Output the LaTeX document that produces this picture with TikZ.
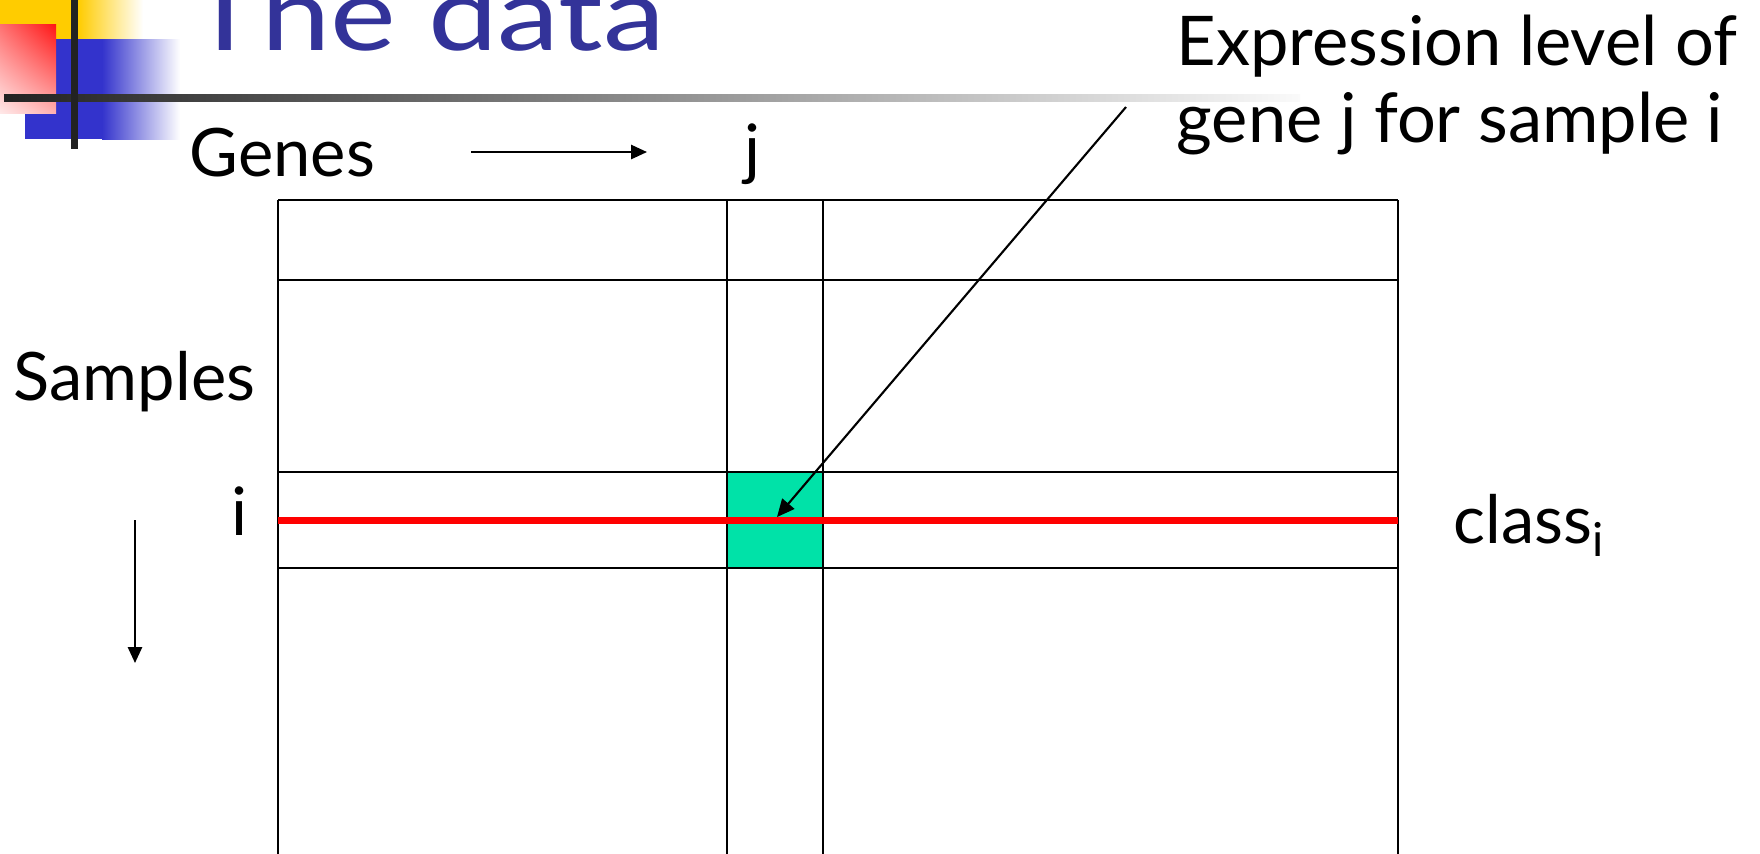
\documentclass[tikz,border=0pt]{standalone}
\usepackage{fontspec}
\setmainfont{Lato}
\newfontfamily\titlefont[FakeStretch=1.22]{Lato}
\usetikzlibrary{arrows.meta,positioning,shadings}
\definecolor{titleblue}{RGB}{51,51,153}
\definecolor{cellgreen}{RGB}{0,226,168}
\definecolor{logoyellow}{RGB}{255,204,0}
\definecolor{logoblue}{RGB}{51,51,204}
\definecolor{barblack}{RGB}{34,34,34}
\definecolor{redul}{RGB}{255,112,112}
\definecolor{redur}{RGB}{255,20,20}
\definecolor{redll}{RGB}{255,232,232}
\definecolor{redlr}{RGB}{255,176,176}
\tikzset{pin/.style={line width=0.6pt, -{Triangle[length=4.5pt, width=4pt]}},
  lbl/.style={inner sep=0pt, font=\fontsize{19}{22}\selectfont},
  gridline/.style={line width=0.6pt},
  classline/.style={red, line width=2pt}}

\begin{document}
\begin{tikzpicture}[x=0.01cm, y=-0.01cm]
  \clip (0,0) rectangle (1760,853);
  \fill[white] (0,0) rectangle (1760,853);
  \fill[logoyellow] (0,-10) rectangle (78,39);
  \shade[left color=logoyellow, right color=white] (78,-10) rectangle (143,39);
  \fill[logoblue] (25,39) rectangle (102,139);
  \shade[left color=logoblue, right color=white] (102,39) rectangle (180,139);
  \shade[upper left=redul, upper right=redur, lower left=redll, lower right=redlr] (0,24) rectangle (56,113);
  \shade[left color=barblack, right color=black!2] (4,94) rectangle (1300,101);
  \fill[barblack] (71,0) rectangle (78,149);
  \node[lbl, anchor=base west, text=titleblue, font=\titlefont\fontsize{29}{31}\selectfont] (title) at (188,50) {The data};
  \node[draw, fill=cellgreen, line width=0.6pt, minimum size=0.96cm, inner sep=0pt] (cell) at (775,520) {};
  \foreach \y in {200,280,472,568}{\draw[gridline] (278,\y) -- (1398,\y);}
  \foreach \x in {278,727,823,1398}{\draw[gridline] (\x,200) -- (\x,860);}
  \draw[classline] (278,520) -- (1398,520);
  \node[lbl, anchor=base west] (genes) at (189,176) {Genes};
  \node[lbl, anchor=base] (j) at (753,172) {j};
  \node[lbl, anchor=base west] (samples) at (13,400) {Samples};
  \node[lbl, anchor=base] (i) at (240,535) {i};
  \node[lbl, anchor=base west] (class) at (1453,543) {class\textsubscript{i}};
  \node[lbl, anchor=base west, font=\fontsize{19.5}{22}\selectfont] (expr1) at (1176,65) {Expression level of};
  \node[lbl, anchor=base west, font=\fontsize{19.5}{22}\selectfont] (expr2) at (1176,142) {gene j for sample i};
  \coordinate (ga) at (471,152);
  \coordinate (gb) at (647,152);
  \coordinate (sa) at (135,520);
  \coordinate (sb) at (135,663);
  \coordinate (tail) at (1126,107);
  \coordinate (tip) at (777,517);
  \draw[pin] (ga) -- (gb);
  \draw[pin] (sa) -- (sb);
  \draw[line width=0.6pt, -{Triangle[length=5pt, width=4.5pt]}] (tail) -- (tip);
\end{tikzpicture}
\end{document}
